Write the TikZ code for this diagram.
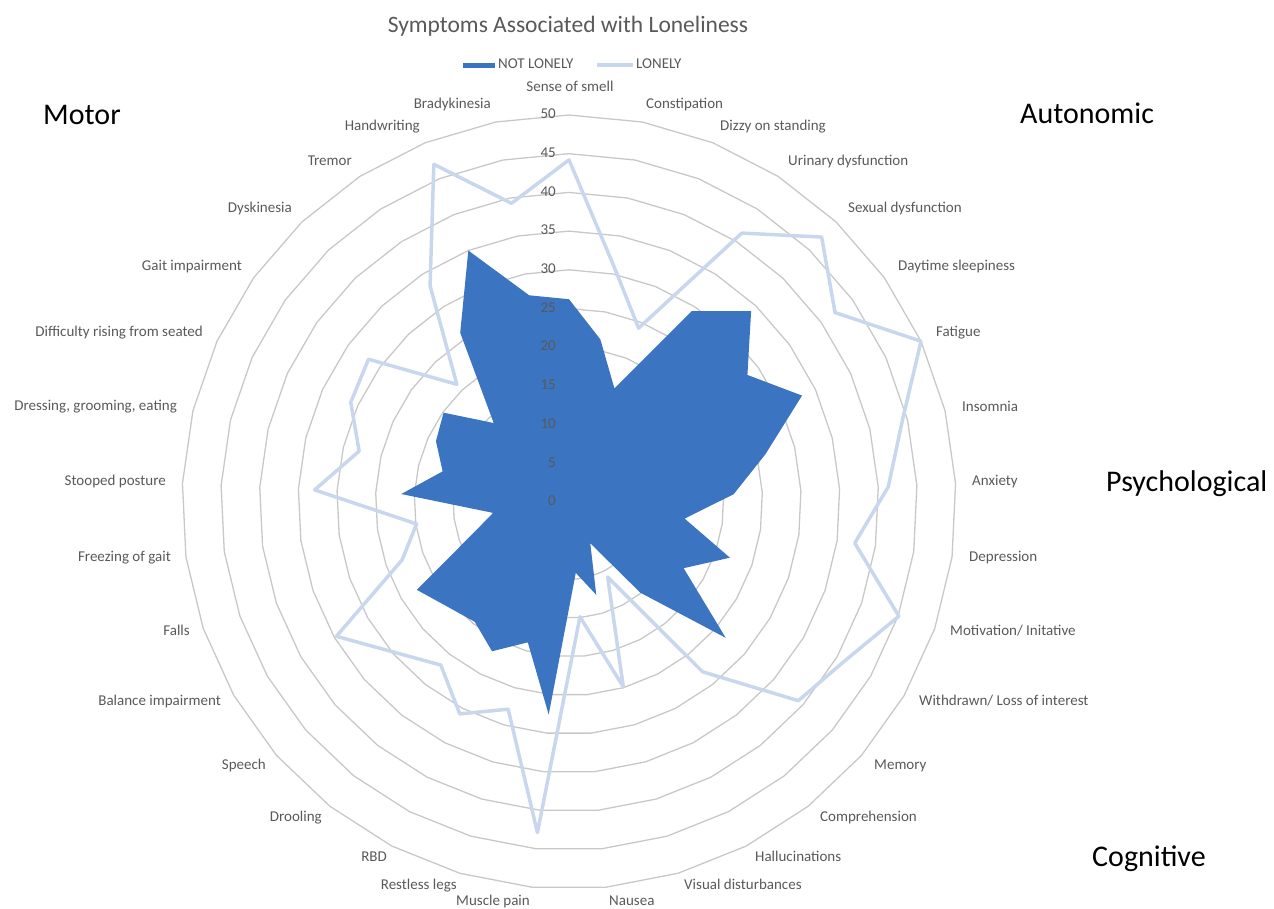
\documentclass[tikz,border=0pt]{standalone}
\usepackage{fontspec}
\setmainfont{Carlito}
\usepackage{tikz}
\usetikzlibrary{positioning}
\definecolor{chartblue}{RGB}{59,116,192}
\definecolor{lonelyblue}{RGB}{200,215,237}
\definecolor{ringgray}{RGB}{200,200,200}
\definecolor{textgray}{RGB}{89,89,89}

\begin{document}
\begin{tikzpicture}[x=1pt,y=-1pt]
    \tikzstyle{ring}=[draw=ringgray, line width=1.3pt, line join=round]
    \tikzstyle{notlonely}=[fill=chartblue]
    \tikzstyle{lonely}=[draw=lonelyblue, line width=3.5pt, line join=round]
    \tikzstyle{axlabel}=[inner sep=0pt, text=textgray, text height=10.5pt, text depth=3pt, font=\fontsize{15}{18}\selectfont]
    \tikzstyle{grouplabel}=[inner sep=0pt, text=black, anchor=base west, font=\fontsize{30}{36}\selectfont]
    \def\perunit{7.74}

    \useasboundingbox (0,0) rectangle (1274,908);

    \node[inner sep=0pt, text=textgray, anchor=base, font=\fontsize{23.5}{28}\selectfont] (title) at (568,32) {Symptoms Associated with Loneliness};

    % legend
    \fill[notlonely] (463,62.5) rectangle (495,68);
    \node[axlabel, anchor=west] (keynot) at (498,65) {NOT LONELY};
    \coordinate (keya) at (597,65);
    \coordinate (keyb) at (633,65);
    \draw[lonely] (keya) -- (keyb);
    \node[axlabel, anchor=west] (keylonely) at (636,65) {LONELY};

    \begin{scope}[shift={(569,502)}, y=1pt]
        \foreach \r in {5,10,...,50}
            \draw[ring] (90:{\r*\perunit}) \foreach \k in {1,...,32} {-- ({90-\k*360/33}:{\r*\perunit})} -- cycle;

        \fill[notlonely] (90:{26.2*\perunit})
            \foreach \v [count=\k] in {21.4,15.8,29.3,34.1,28.3,33.1,26.1,21.3,15.1,22.0,17.1,26.8,14.9,6.0,12.5,9.2,27.6,18.9,21.7,19.7,20.7,22.7,13.5,9.9,21.7,16.8,18.9,19.9,14.1,26.0,35.0,27.2}
            {-- ({90-\k*360/33}:{\v*\perunit})} -- cycle;

        \draw[lonely] (90:{44.2*\perunit})
            \foreach \v [count=\k] in {30.9,24.2,41.3,47.3,42.2,50.0,44.3,41.3,37.3,45.1,41.1,39.2,27.9,10.9,24.9,14.9,42.9,27.9,30.8,26.8,29.7,34.7,22.8,19.9,32.9,27.9,31.0,31.8,21.0,33.2,47.0,39.3}
            {-- ({90-\k*360/33}:{\v*\perunit})} -- cycle;
    \end{scope}

    \foreach \v in {0,5,...,50}
        \node[axlabel, anchor=east] (tick\v) at (556,{502-\v*\perunit}) {\v};

    \node[axlabel, anchor=center] (smell) at (570,88) {Sense of smell};
    \node[axlabel, anchor=west] (constipation) at (646,105) {Constipation};
    \node[axlabel, anchor=west] (dizzy) at (720,127) {Dizzy on standing};
    \node[axlabel, anchor=west] (urinary) at (788,162) {Urinary dysfunction};
    \node[axlabel, anchor=west] (sexual) at (848,209) {Sexual dysfunction};
    \node[axlabel, anchor=west] (daytime) at (898,267) {Daytime sleepiness};
    \node[axlabel, anchor=west] (fatigue) at (936,333) {Fatigue};
    \node[axlabel, anchor=west] (insomnia) at (962,408) {Insomnia};
    \node[axlabel, anchor=west] (anxiety) at (972,482) {Anxiety};
    \node[axlabel, anchor=west] (depression) at (969,558) {Depression};
    \node[axlabel, anchor=west] (motivation) at (950,632) {Motivation/ Initative};
    \node[axlabel, anchor=west] (withdrawn) at (919,702) {Withdrawn/ Loss of interest};
    \node[axlabel, anchor=west] (memory) at (874,766) {Memory};
    \node[axlabel, anchor=west] (comprehension) at (820,818) {Comprehension};
    \node[axlabel, anchor=west] (hallucinations) at (755,858) {Hallucinations};
    \node[axlabel, anchor=west] (visual) at (684,886) {Visual disturbances};
    \node[axlabel, anchor=west] (nausea) at (609,902) {Nausea};
    \node[axlabel, anchor=east] (muscle) at (530,902) {Muscle pain};
    \node[axlabel, anchor=east] (restless) at (457,886) {Restless legs};
    \node[axlabel, anchor=east] (rbd) at (387,858) {RBD};
    \node[axlabel, anchor=east] (drooling) at (322,818) {Drooling};
    \node[axlabel, anchor=east] (speech) at (266,766) {Speech};
    \node[axlabel, anchor=east] (balance) at (221,702) {Balance impairment};
    \node[axlabel, anchor=east] (falls) at (190,632) {Falls};
    \node[axlabel, anchor=east] (freezing) at (171,558) {Freezing of gait};
    \node[axlabel, anchor=east] (stooped) at (166,482) {Stooped posture};
    \node[axlabel, anchor=east] (dressing) at (177,407) {Dressing, grooming, eating};
    \node[axlabel, anchor=east] (rising) at (203,333) {Difficulty rising from seated};
    \node[axlabel, anchor=east] (gait) at (242,267) {Gait impairment};
    \node[axlabel, anchor=east] (dyskinesia) at (292,209) {Dyskinesia};
    \node[axlabel, anchor=east] (tremor) at (352,162) {Tremor};
    \node[axlabel, anchor=east] (handwriting) at (420,127) {Handwriting};
    \node[axlabel, anchor=east] (bradykinesia) at (491,105) {Bradykinesia};

    \node[grouplabel] (motor) at (43,124) {Motor};
    \node[grouplabel] (autonomic) at (1020,123) {Autonomic};
    \node[grouplabel] (psychological) at (1106,491) {Psychological};
    \node[grouplabel] (cognitive) at (1092,866) {Cognitive};
\end{tikzpicture}
\end{document}
